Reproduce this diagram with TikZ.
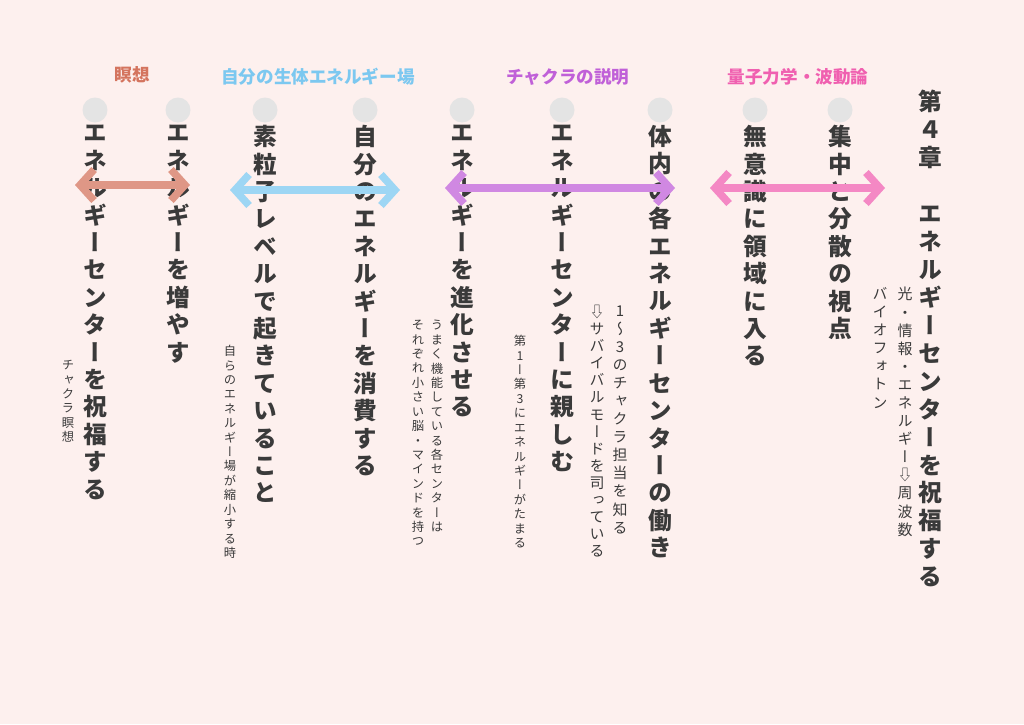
\documentclass[tikz,border=0pt]{standalone}
\usepackage{fontspec}
\usepackage{tikz}
\usetikzlibrary{arrows.meta}
\newfontfamily\jp[RawFeature=+vert]{Noto Sans CJK JP}
\newfontfamily\jph{Noto Sans CJK JP}
\definecolor{bg}{HTML}{FDF0EE}
\definecolor{ink}{HTML}{3A3A3A}
\definecolor{dotgray}{HTML}{E4E4E4}
\definecolor{cmeiso}{HTML}{D4745E}
\definecolor{cfield}{HTML}{7CC8F0}
\definecolor{cchakra}{HTML}{C060D8}
\definecolor{cquant}{HTML}{F060B0}
\makeatletter
\newcommand\vtxt[2]{\vbox{\baselineskip=#1\lineskiplimit=-10pt\@tfor\vt@c:=#2\do{\hbox to 1.2em{\hss\vt@c\hss}}}}
\makeatother
\begin{document}
\begin{tikzpicture}[x=0.02cm,y=-0.02cm,
  big/.style={anchor=north,inner sep=0pt,text=ink,font=\jp\bfseries\fontsize{13.5pt}{15pt}\selectfont},
  small/.style={anchor=north,inner sep=0pt,text=ink,font=\jp\fontsize{8.5pt}{10pt}\selectfont},
  tiny/.style={anchor=north,inner sep=0pt,text=ink,font=\jp\fontsize{7pt}{8pt}\selectfont},
  dot/.style={circle,fill=dotgray,minimum size=0.5cm,inner sep=0pt},
  head/.style={font=\jph\bfseries\fontsize{10pt}{12pt}\selectfont},
  link/.style={line width=0.15cm,{Straight Barb[length=0.28cm,width=0.62cm]}-{Straight Barb[length=0.28cm,width=0.62cm]}}]
\fill[bg] (0,0) rectangle (1024,724);
\useasboundingbox (0,0) rectangle (1024,724);
% headers
\node[head,text=cmeiso] (hmeiso) at (132,75) {瞑想};
\node[head,text=cfield] (hfield) at (318,77) {自分の生体エネルギー場};
\node[head,text=cchakra] (hchakra) at (568,77) {チャクラの説明};
\node[head,text=cquant] (hquant) at (798,77) {量子力学・波動論};
% dots
\foreach \x/\n in {95/d1,178/d2,265/d3,365/d4,462/d5,562/d6,660/d7,755/d8,840/d9}
  \node[dot] (\n) at (\x,110) {};
% title
\node[big] (title) at (930,90) {\vtxt{15.9pt}{第４章　エネルギーセンターを祝福する}};
\node[small] (t1) at (905,287) {\vtxt{10.3pt}{光・情報・エネルギー⇩周波数}};
\node[small] (t2) at (880,287) {\vtxt{10.3pt}{バイオフォトン}};
% main columns
\node[big] (c9) at (840,125) {\vtxt{15.6pt}{集中と分散の視点}};
\node[big] (c8) at (755,125) {\vtxt{15.6pt}{無意識に領域に入る}};
\node[big] (c7) at (660,125) {\vtxt{15.6pt}{体内の各エネルギーセンターの働き}};
\node[small] (c7a) at (620,305) {\vtxt{10.3pt}{1～3のチャクラ担当を知る}};
\node[small] (c7b) at (597,305) {\vtxt{9.7pt}{⇩サバイバルモードを司っている}};
\node[big] (c6) at (562,125) {\vtxt{15.6pt}{エネルギーセンターに親しむ}};
\node[tiny] (c6a) at (520,335) {\vtxt{8.2pt}{第1ー第3にエネルギーがたまる}};
\node[big] (c5) at (462,125) {\vtxt{15.6pt}{エネルギーを進化させる}};
\node[tiny] (c5a) at (437,320) {\vtxt{8.2pt}{うまく機能している各センターは}};
\node[tiny] (c5b) at (418,320) {\vtxt{8.2pt}{それぞれ小さい脳・マインドを持つ}};
\node[big] (c4) at (365,125) {\vtxt{15.6pt}{自分のエネルギーを消費する}};
\node[big] (c3) at (265,125) {\vtxt{15.6pt}{素粒子レベルで起きていること}};
\node[tiny] (c3a) at (230,345) {\vtxt{8.2pt}{自らのエネルギー場が縮小する時}};
\node[big] (c2) at (178,125) {\vtxt{15.6pt}{エネルギーを増やす}};
\node[big] (c1) at (95,125) {\vtxt{15.6pt}{エネルギーセンターを祝福する}};
\node[tiny] (c1a) at (68,360) {\vtxt{8.2pt}{チャクラ瞑想}};
% arrows
\coordinate (a1l) at (75,185);  \coordinate (a1r) at (190,185);
\coordinate (a2l) at (230,190); \coordinate (a2r) at (400,190);
\coordinate (a3l) at (445,188); \coordinate (a3r) at (675,188);
\coordinate (a4l) at (710,188); \coordinate (a4r) at (885,188);
\draw[link,draw=cmeiso!75] (a1l) -- (a1r);
\draw[link,draw=cfield!75] (a2l) -- (a2r);
\draw[link,draw=cchakra!75] (a3l) -- (a3r);
\draw[link,draw=cquant!75] (a4l) -- (a4r);
\end{tikzpicture}
\end{document}
